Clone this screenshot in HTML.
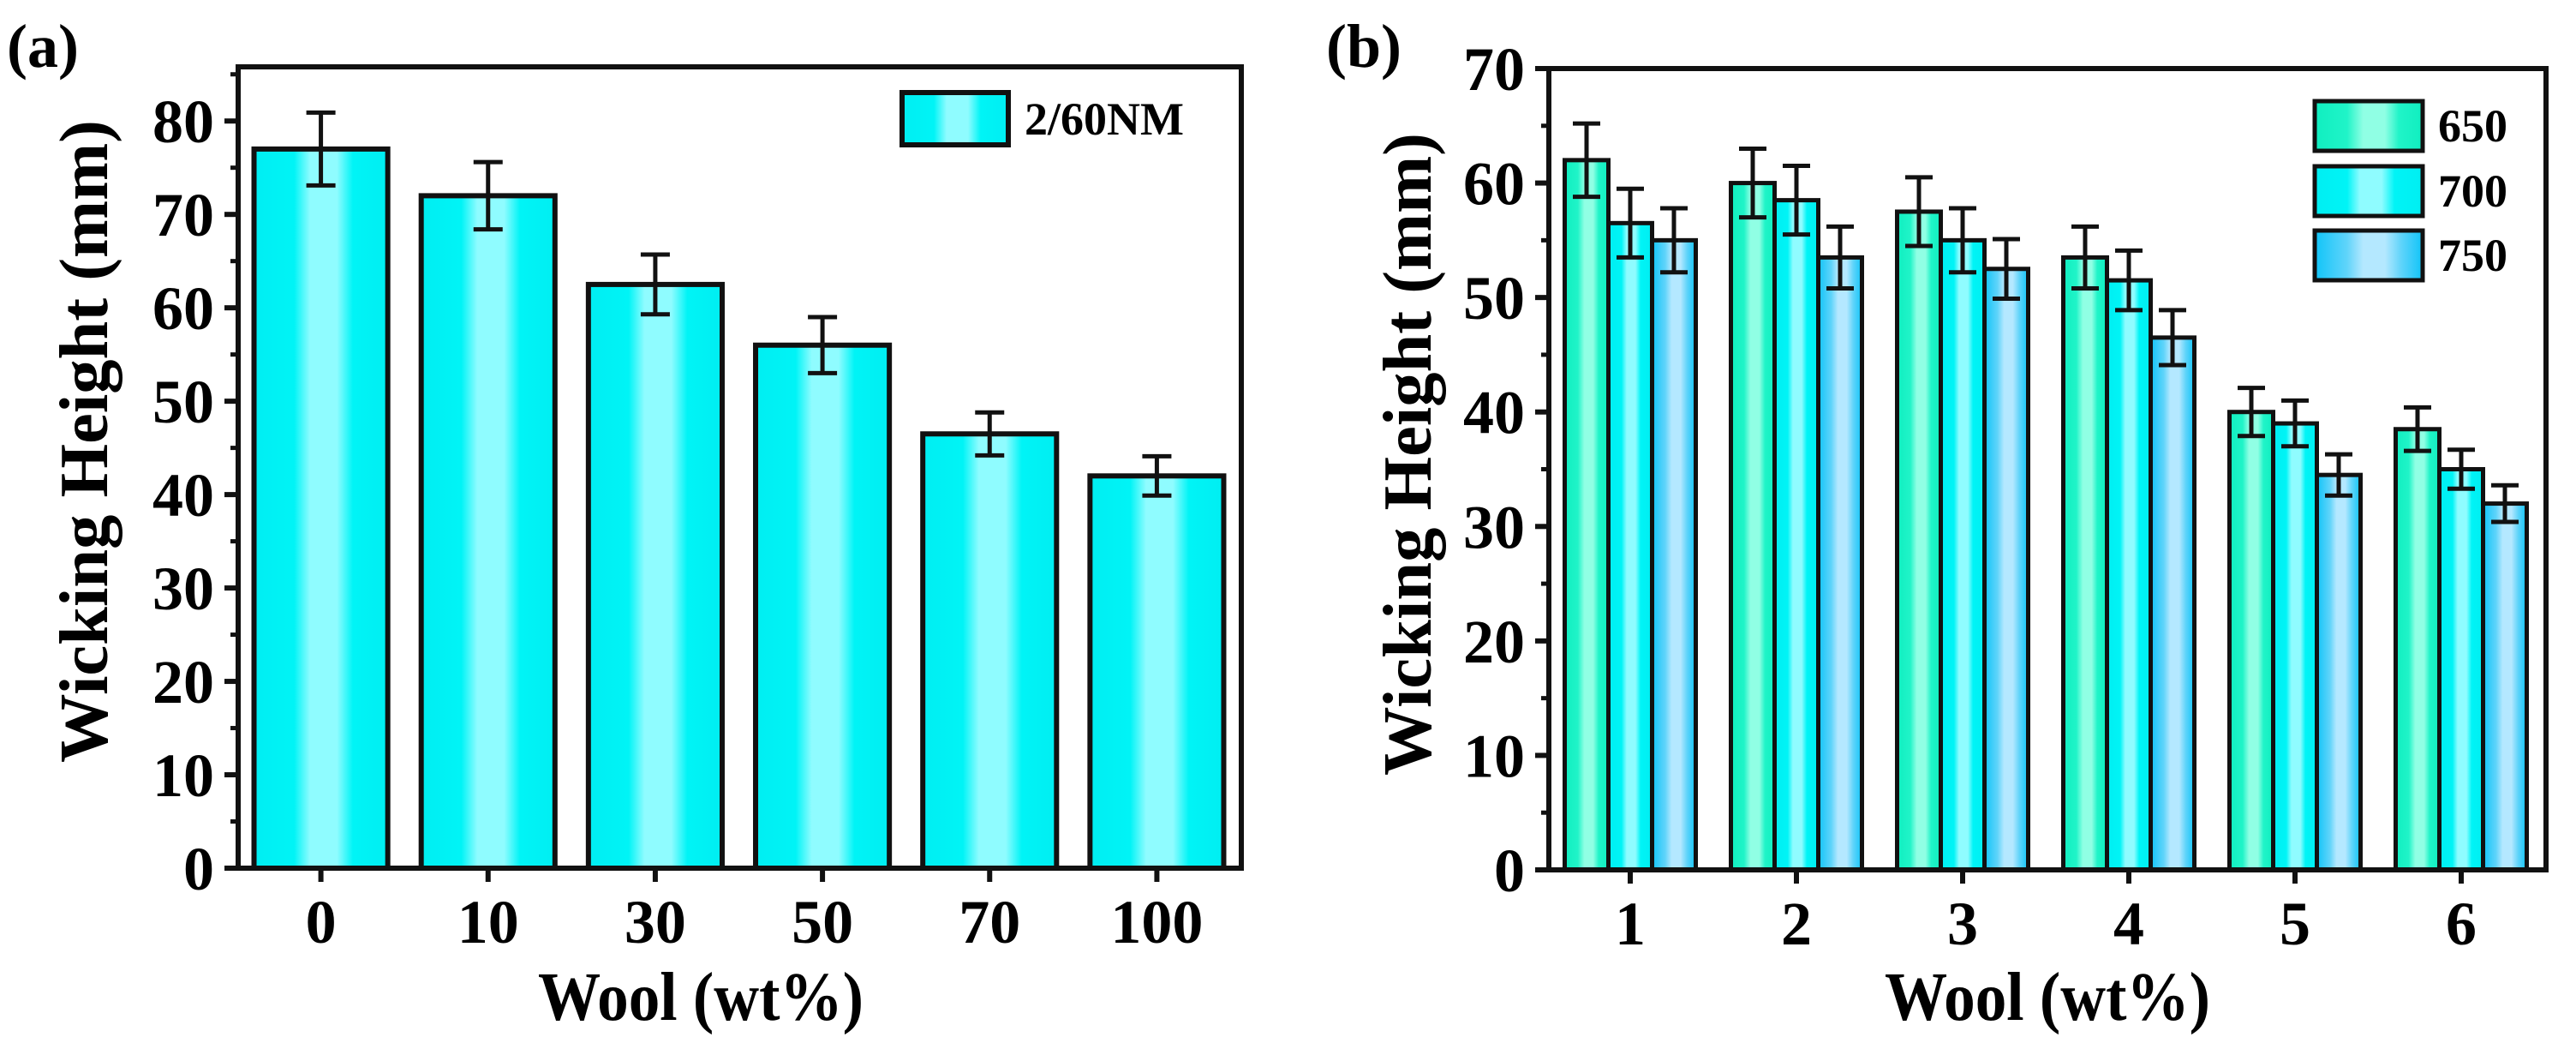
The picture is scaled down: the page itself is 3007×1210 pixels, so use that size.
<!DOCTYPE html>
<html><head><meta charset="utf-8"><style>
html,body{margin:0;padding:0;background:#fff;}
svg{display:block;font-family:"Liberation Serif",serif;font-weight:bold;}
</style></head><body>
<svg id="chart" width="3007" height="1210" viewBox="0 0 3007 1210" xmlns="http://www.w3.org/2000/svg">
<defs>
<linearGradient id="gCyan" x1="0" x2="1" y1="0" y2="0">
<stop offset="0" stop-color="#00eef2"/><stop offset="0.3" stop-color="#00f4f6"/><stop offset="0.42" stop-color="#8ffcff"/><stop offset="0.62" stop-color="#8ffcff"/><stop offset="0.74" stop-color="#00f4f6"/><stop offset="1" stop-color="#00eef2"/></linearGradient>
<linearGradient id="gGreen" x1="0" x2="1" y1="0" y2="0">
<stop offset="0" stop-color="#10eec0"/><stop offset="0.3" stop-color="#20f4c8"/><stop offset="0.45" stop-color="#90ffe4"/><stop offset="0.65" stop-color="#90ffe4"/><stop offset="0.78" stop-color="#20f4c8"/><stop offset="1" stop-color="#10eec0"/></linearGradient>
<linearGradient id="gBlue" x1="0" x2="1" y1="0" y2="0">
<stop offset="0" stop-color="#10c4f8"/><stop offset="0.3" stop-color="#60d4fa"/><stop offset="0.45" stop-color="#b4e8ff"/><stop offset="0.65" stop-color="#b4e8ff"/><stop offset="0.8" stop-color="#60d4fa"/><stop offset="1" stop-color="#10c4f8"/></linearGradient>
</defs>
<g id="pa"></g>
<g id="pb"></g>
</svg>
<script>
// Panel (a) data
const catsA = ["0","10","30","50","70","100"];
const valsA = [77, 72, 62.5, 56, 46.5, 42];
const errA = [3.9, 3.6, 3.2, 3.0, 2.3, 2.1];
const yTicksA = [0,10,20,30,40,50,60,70,80];
// Panel (b) data
const catsB = ["1","2","3","4","5","6"];
const seriesNamesB = ["650","700","750"];
const vals650 = [62, 60, 57.5, 53.5, 40, 38.5];
const vals700 = [56.5, 58.5, 55, 51.5, 39, 35];
const vals750 = [55, 53.5, 52.5, 46.5, 34.5, 32];
const err650 = [3.2, 3.0, 3.0, 2.7, 2.1, 1.9];
const err700 = [3.0, 3.0, 2.8, 2.6, 2.0, 1.7];
const err750 = [2.8, 2.7, 2.6, 2.4, 1.8, 1.6];
const yTicksB = [0,10,20,30,40,50,60,70];

const NS="http://www.w3.org/2000/svg";
function mk(parent, tag, attrs, text){
  const e=document.createElementNS(NS,tag);
  for(const k in attrs) e.setAttribute(k,attrs[k]);
  if(text!==undefined) e.textContent=text;
  parent.appendChild(e); return e;
}
function errBar(g, x, y0, y1, cap){
  mk(g,'line',{x1:x,x2:x,y1:y0,y2:y1,stroke:'#111','stroke-width':5});
  mk(g,'line',{x1:x-cap,x2:x+cap,y1:y0,y2:y0,stroke:'#111','stroke-width':5});
  mk(g,'line',{x1:x-cap,x2:x+cap,y1:y1,y2:y1,stroke:'#111','stroke-width':5});
}
function axes(g, L, T, R, B, ymax, ticks, yS, xCenters, cats){
  // minor ticks
  for(let v=5; v<ymax; v+=10){
    const t=mk(g,'line',{x1:L-9,x2:L,y1:yS(v),y2:yS(v),stroke:'#111','stroke-width':5});
    
    
  }
  ticks.forEach(v=>{
    const y=yS(v);
    const t=mk(g,'line',{x1:L-16,x2:L,y1:y,y2:y,stroke:'#111','stroke-width':6});
    
    
    const lb=mk(g,'text',{x:L-28,y:y+25,'text-anchor':'end','font-size':72},String(v));
    
    
  });
  xCenters.forEach((x,i)=>{
    const t=mk(g,'line',{x1:x,x2:x,y1:B,y2:B+16,stroke:'#111','stroke-width':6});
    
    
    const lb=mk(g,'text',{x:x,y:B+87,'text-anchor':'middle','font-size':72},cats[i]);
    
    
  });
  const fr=mk(g,'rect',{x:L,y:T,width:R-L,height:B-T,fill:'none',stroke:'#111','stroke-width':6});
  
  
}

// ---------- Panel A ----------
(function(){
  const g=document.getElementById('pa');
  const L=278,T=78,R=1449,B=1013, ymax=85.8;
  const yS=v=>B-(B-T)*v/ymax;
  const step=(R-L)/catsA.length;
  const xs=catsA.map((c,i)=>L+step*(i+0.5)-1);
  const bw=step*0.8;
  valsA.forEach((v,i)=>{
    const b=mk(g,'rect',{x:xs[i]-bw/2,y:yS(v),width:bw,height:B-yS(v),fill:'url(#gCyan)',stroke:'#111','stroke-width':6});
    
    
    errBar(g,xs[i],yS(v+errA[i]),yS(v-errA[i]),17);
  });
  axes(g,L,T,R,B,ymax,yTicksA,yS,xs,catsA);
  const lg=mk(g,'rect',{x:1053,y:108,width:124,height:61,fill:'url(#gCyan)',stroke:'#111','stroke-width':6});
  
  
  const lt=mk(g,'text',{x:1196,y:157,'font-size':54},'2/60NM');
  
  
  const yt=mk(g,'text',{x:0,y:0,'font-size':80,'text-anchor':'middle',transform:'translate(125,515) rotate(-90)',textLength:750,lengthAdjust:'spacingAndGlyphs'},'Wicking Height (mm)');
  
  
  const xt=mk(g,'text',{x:818,y:1190,'font-size':80,'text-anchor':'middle',textLength:380,lengthAdjust:'spacingAndGlyphs'},'Wool (wt%)');
  
  
  const pl=mk(g,'text',{x:8,y:78,'font-size':72},'(a)');
  
  
})();

// ---------- Panel B ----------
(function(){
  const g=document.getElementById('pb');
  const L=1808,T=80,R=2972,B=1015, ymax=70;
  const yS=v=>B-(B-T)*v/ymax;
  const step=(R-L)/catsB.length;
  const xs=catsB.map((c,i)=>L+step*(i+0.5)-2);
  const bw=51;
  const series=[vals650,vals700,vals750];
  const errs=[err650,err700,err750];
  const fills=['url(#gGreen)','url(#gCyan)','url(#gBlue)'];
  series.forEach((vals,s)=>{
    vals.forEach((v,i)=>{
      const cx=xs[i]+(s-1)*bw;
      const b=mk(g,'rect',{x:cx-bw/2,y:yS(v),width:bw,height:B-yS(v),fill:fills[s],stroke:'#111','stroke-width':5});
      
      
      errBar(g,cx,yS(v+errs[s][i]),yS(v-errs[s][i]),16);
    });
  });
  axes(g,L,T,R,B,ymax,yTicksB,yS,xs,catsB);
  const ly=[118,194,269];
  seriesNamesB.forEach((n,s)=>{
    const r=mk(g,'rect',{x:2702,y:ly[s],width:126,height:58,fill:fills[s],stroke:'#111','stroke-width':5});
    
    
    const t=mk(g,'text',{x:2846,y:ly[s]+47,'font-size':54},n);
    
    
  });
  const yt=mk(g,'text',{x:0,y:0,'font-size':80,'text-anchor':'middle',transform:'translate(1670,530) rotate(-90)',textLength:750,lengthAdjust:'spacingAndGlyphs'},'Wicking Height (mm)');
  
  
  const xt=mk(g,'text',{x:2390,y:1190,'font-size':80,'text-anchor':'middle',textLength:380,lengthAdjust:'spacingAndGlyphs'},'Wool (wt%)');
  
  
  const pl=mk(g,'text',{x:1548,y:78,'font-size':72},'(b)');
  
  
})();
</script>
</body></html>
